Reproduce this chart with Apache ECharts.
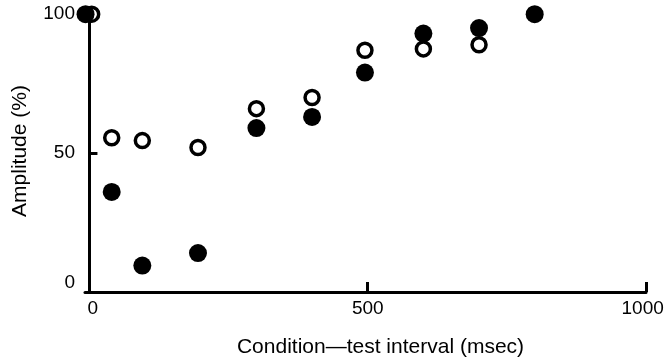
<!DOCTYPE html>
<html>
<head>
<meta charset="utf-8">
<script src="https://cdn.jsdelivr.net/npm/echarts@6/dist/echarts.min.js"></script>
<style>html,body{margin:0;padding:0;background:#fff}#c{width:669px;height:357px}</style>
</head>
<body>
<div id="c"></div>
<script>
// Condition-test interval (msec) and amplitude (%)
var openX = [4, 40, 95, 195, 300, 400, 495, 600, 700];
var openY = [100, 55.5, 54.5, 52, 66, 70, 87, 87.5, 89];
var filledX = [-7, 40, 95, 195, 300, 400, 495, 600, 700, 800];
var filledY = [100, 36, 9.5, 14, 59, 63, 79, 93, 95, 100];
var xTicks = [500, 1000];
var xLabels = ['0', '500', '1000'];
var yTicks = [50];
var yLabels = ['0', '50', '100'];
var xTitle = 'Condition\u2014test interval (msec)';
var yTitle = 'Amplitude (%)';

// label anchor positions (slight offsets as printed in the original figure)
var xLabelAt = [6, 500, 994];
var yLabelAt = [3.2, 50, 100];

function pairs(xs, ys){ return xs.map(function(x,i){ return [x, ys[i]]; }); }
function labelFor(at, labels){
  return function(v){ var i = at.indexOf(v); return i >= 0 ? labels[i] : ''; };
}

var font = '"Liberation Sans", Arial, sans-serif';
var chart = echarts.init(document.getElementById('c'), null, {renderer:'canvas'});
chart.setOption({
  animation: false,
  backgroundColor: '#fff',
  grid: {left: 85, right: 23, top: 10, bottom: 65, containLabel: false, outerBoundsMode: 'none'},
  xAxis: {
    type: 'value', min: -8, max: 1000,
    splitLine: {show: false},
    axisLine: {lineStyle: {color: '#000', width: 3}},
    axisTick: {show: true, inside: true, length: 10, lineStyle: {color: '#000', width: 3}, customValues: xTicks},
    axisLabel: {color: '#000', fontFamily: font, fontSize: 19, margin: 7, customValues: xLabelAt,
                formatter: labelFor(xLabelAt, xLabels)},
    name: xTitle, nameLocation: 'middle', nameGap: 45,
    nameTextStyle: {color: '#000', fontFamily: font, fontSize: 21, padding: [0,0,0,30]}
  },
  yAxis: {
    type: 'value', min: 0, max: 101.5,
    splitLine: {show: false},
    axisLine: {lineStyle: {color: '#000', width: 3}},
    axisTick: {show: true, inside: true, length: 8, lineStyle: {color: '#000', width: 3}, customValues: yTicks},
    axisLabel: {color: '#000', fontFamily: font, fontSize: 19, margin: 10, customValues: yLabelAt,
                formatter: labelFor(yLabelAt, yLabels)},
    name: yTitle, nameLocation: 'middle', nameGap: 54, nameRotate: 90,
    nameTextStyle: {color: '#000', fontFamily: font, fontSize: 21}
  },
  series: [
    {type: 'scatter', data: pairs(openX, openY), symbol: 'circle', symbolSize: 14, z: 2,
     itemStyle: {color: '#fff', borderColor: '#000', borderWidth: 3.5, opacity: 1}},
    {type: 'scatter', data: pairs(filledX, filledY), symbol: 'circle', symbolSize: 18, z: 3,
     itemStyle: {color: '#000', opacity: 1}}
  ]
});
</script>
</body>
</html>
